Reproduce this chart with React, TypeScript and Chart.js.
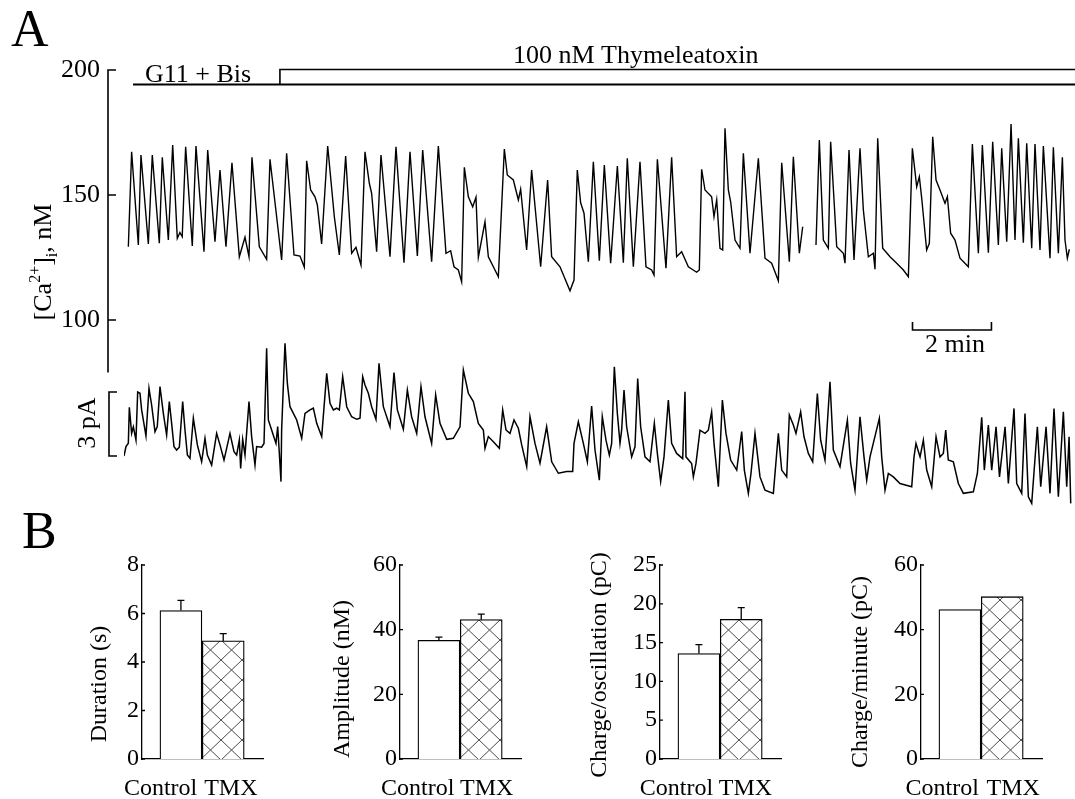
import React, { useEffect, useRef } from "react";
import { Chart, registerables } from "chart.js";

Chart.register(...registerables);

const FONT = '"Liberation Serif", "Times New Roman", Times, serif';
const INK = "#000000";

// ---------------- Panel A data ----------------
// [time (s), [Ca2+]i (nM)] ; null marks the gap in the record
const caTrace: [number, number | null][] = [
  [6.6,129.3],[11.6,167.3],[21.8,130],[25.8,166],[37,130.4],[43,166],[53.7,130.7],[58.2,165.1],[67.4,132],[74,170],
  [81,132.7],[85,135],[88.5,133.3],[93.7,169.3],[103.8,129.6],[109.4,169.6],[121.6,127.3],[127.2,168],[138.3,131.3],[145.9,160],
  [155,129.3],[164.1,162.9],[175.3,125.3],[183.9,133.1],[190,125.3],[194.5,165.1],[205.7,129.3],[216.8,124.3],[221.9,164.3],[239.6,124],
  [247.2,166.7],[258.4,126],[267.5,125.6],[274.1,121.1],[277.6,163.7],[283.7,152],[290.3,149.3],[293.9,146],[300.4,130.4],[309.6,169.6],
  [319.7,141.3],[327.3,126],[336.9,165.6],[346,126.7],[352.6,129.1],[360.2,122],[366.3,167.3],[372.9,154.7],[376.4,150.7],[384,127.3],
  [390.6,166],[404.3,125.3],[413.4,169.3],[425.6,122.9],[434.7,167.3],[445.9,125.6],[454,168],[467.6,123.3],[477.8,169.6],[489.4,126.7],
  [496.5,127.7],[501.6,121.3],[508.2,120],[513.2,115.3],[517.3,161.1],[523.4,149.3],[530,145.3],[535,149.1],[538.6,125.1],[548.7,139.3],
  [553.8,125.3],[561.4,121.3],[569,117.3],[578.1,168.4],[582.6,158],[591.8,156],[599.4,148],[602.9,152.3],[612,128],[619.6,160],
  [633.3,121.3],[643.9,156],[650,125.3],[662.7,121.3],[677.9,111.7],[684,116],[689,160],[694.1,146.9],[699.2,142.7],[705.8,123.3],
  [713.4,163.3],[722.5,123.7],[730.1,162],[739.7,122.7],[749.9,161.6],[759,122.9],[765,164.7],[774.2,121.3],[784.3,163.3],[793.4,121.3],
  [802,120],[805.6,118],[810.7,164.3],[823.8,120.7],[832.4,165.1],[840,125.3],[847.6,127.3],[857.8,121.3],[870.4,119.1],[874.5,120],
  [878,160.3],[883.1,152],[893.2,149.3],[896.8,141.3],[900.9,148],[905.9,128.7],[910,128],[913.5,176.7],[918.6,152],[922.1,147.3],
  [928.7,132],[936.3,128.7],[941.4,166.7],[951.5,126.7],[964.2,164.7],[974.3,124.7],[984.4,122.7],[994.6,115.7],[999.7,162.9],[1011.3,123.3],
  [1017.4,165.3],[1026.5,126.7],[1031.6,137.3],[1040,null],[1051.8,130],[1056.9,172],[1063,132],[1070.6,128.7],[1074.1,171.3],[1083.3,129.3],
  [1093.4,126.7],[1095.9,122.7],[1102,168],[1109.6,124],[1118.7,168.7],[1123.8,144],[1131.4,125.3],[1139,126.7],[1141.5,120.3],[1145.6,172.7],
  [1153.2,128.7],[1164.3,125.3],[1174.5,122.7],[1184.6,120],[1192.2,117.3],[1198.3,168.7],[1204.9,153.3],[1208.9,157.3],[1212.5,148.7],[1220,128],
  [1224.1,130.7],[1229.2,173.3],[1234.3,156],[1240.3,152],[1247.9,146.7],[1251.5,149.3],[1256.5,134.7],[1263.1,132],[1270.7,124.7],[1283.4,121.3],
  [1289.5,170.4],[1298.6,126.7],[1304.7,170],[1313.8,126.9],[1320.4,171.3],[1329,130],[1334.1,168.7],[1341.7,131.3],[1348.3,178.4],[1354.3,132],
  [1359.4,172.7],[1367,130.9],[1372.1,170.7],[1379.7,128.7],[1384.7,170.4],[1392.3,128],[1397.4,169.6],[1407.5,124.7],[1412.6,169.1],[1420.2,126.7],
  [1426.3,165.1],[1430.3,132],[1433.9,124.7],[1436.9,128.3],
];

// [time (s), membrane current (pA, relative)]
const currentTrace: [number, number][] = [
  [0,0],[3,0.44],[6.6,0.6],[8.1,2.28],[11.6,1.06],[14.2,1.37],[18.2,0.75],[20.8,3.0],[24.3,2.94],[26.8,2.16],
  [33.4,0.94],[38,3.17],[42,2.39],[47.1,1.14],[50.6,1.38],[54.7,3.25],[59.8,2.0],[64.8,0.98],[68.9,2.55],[72.4,1.53],
  [76,0.44],[80,0.28],[84.1,0.41],[89.2,2.55],[92.7,1.22],[96.3,0.05],[100.3,-0.11],[105.4,1.77],[111.5,0.52],[118,-0.27],
  [123.1,0.83],[126.7,0.05],[133.2,-0.42],[140.8,1.06],[145.9,0.52],[152,-0.19],[161.1,1.06],[167.2,0.2],[171.2,0.05],[175.3,0.75],
  [177.3,-0.58],[180.4,0.78],[183.9,0.05],[190,2.55],[194,0.91],[199.1,-0.42],[201.6,0.44],[209.2,0.41],[212.8,0.59],[216.8,5.05],
  [219.4,1.69],[224.4,1.22],[231,0.59],[233.6,1.38],[236.1,0.13],[238.6,-1.2],[239.6,1.22],[244.7,5.28],[248.3,3.4],[252.3,2.31],
  [262.5,1.69],[270.1,0.83],[275.1,2.0],[282.7,2.16],[287.8,2.24],[292.9,1.53],[300.5,0.91],[308.1,3.87],[313.1,2.47],[318.2,2.16],
  [323.3,2.24],[327.3,2.16],[332.4,3.72],[338.5,2.31],[346,1.84],[353.7,1.72],[358.7,1.77],[362.8,3.72],[366.3,3.33],[371.4,2.94],
  [376.4,2.31],[383,1.72],[387.6,4.34],[394.2,2.31],[404.3,1.37],[410.4,3.91],[415.5,2.16],[424.6,1.25],[430.7,3.09],[437.2,1.84],
  [444.9,1.06],[451.4,3.25],[457.5,1.84],[467.6,0.59],[473.7,2.86],[480.3,1.53],[490.5,0.78],[500.6,0.83],[510.7,1.37],[515.8,4.03],
  [523.4,2.94],[531,2.55],[538.6,1.53],[546.2,1.22],[548.7,0.36],[553.8,0.91],[561.4,0.67],[570.5,0.36],[575.6,2.16],[580.6,1.22],
  [586.7,1.06],[592.8,1.69],[599.4,1.3],[604.5,0.52],[612.1,-0.5],[617.1,1.84],[624.7,0.59],[632.3,-0.34],[642.4,1.37],[650.1,-0.27],
  [660.2,-0.81],[672.9,-0.73],[682,-0.73],[684,0.59],[690.6,1.6],[698.2,0.59],[704.3,-0.27],[710.8,2.34],[715.9,0.28],[722.5,-1.13],
  [727,1.84],[732.6,0.74],[737.7,0.04],[741.2,0.59],[745.3,4.18],[749.9,1.99],[753.9,0.59],[756.4,1.21],[760,3.09],[764,1.37],
  [771.6,-0.04],[776.7,0.43],[780.8,3.63],[785.3,1.37],[791.9,-0.04],[799.5,-0.27],[806.1,1.53],[810.7,0.12],[815.7,-1.2],[820.8,-0.04],
  [827.4,2.62],[832.4,0.59],[840,0.12],[849.2,-0.12],[852.7,3.01],[854.2,-0.04],[862.8,-0.35],[865.4,-0.98],[869.4,-0.35],[875.5,1.21],
  [883.1,1.06],[888.2,1.21],[893.2,2.07],[896.8,0.59],[903.4,-1.44],[909.5,2.62],[915,1.06],[922.1,-0.19],[931.3,-0.66],[938.9,1.14],
  [942.9,-0.66],[949,-1.75],[953,-0.82],[959.1,1.06],[966.7,-0.98],[974.3,-1.6],[987,-1.75],[994.6,1.06],[999.7,-0.66],[1007.3,-0.98],
  [1011.3,1.92],[1017.4,1.45],[1021.4,1.06],[1028.5,2.07],[1033.6,0.9],[1040.2,0.12],[1046.8,-0.27],[1053.9,2.93],[1058.9,0.74],[1065.5,-0.19],
  [1073.1,3.48],[1078.2,0.28],[1088.3,-0.5],[1099.5,1.68],[1104.5,-0.35],[1111.1,-1.6],[1118.7,1.84],[1124.8,-0.04],[1128.9,-1.13],[1133.9,-0.04],
  [1148.1,1.76],[1151.7,-0.04],[1156.7,-1.6],[1161.8,-0.82],[1169.4,-0.98],[1179.5,-1.29],[1197.3,-1.44],[1200.8,-0.04],[1203.8,0.59],[1210,-0.04],
  [1215,0.74],[1220.1,-0.66],[1227.7,-1.44],[1234.3,0.9],[1240.3,-0.04],[1245.4,0.12],[1249,1.21],[1252.9,-0.19],[1260.6,-0.27],[1268.2,-1.29],
  [1275.8,-1.75],[1291,-1.68],[1297.1,-0.82],[1303.7,1.81],[1307.7,-0.66],[1313.8,1.45],[1318.9,-0.66],[1325.5,1.37],[1330.7,-0.98],[1339.2,1.37],
  [1344.2,-1.29],[1352.8,2.23],[1356.9,-1.29],[1364.5,-1.75],[1369.5,1.99],[1374.6,-1.91],[1379.7,-2.22],[1388.3,1.37],[1393.4,-1.44],[1401.5,1.37],
  [1407.5,-1.75],[1413.6,2.23],[1420.2,-1.91],[1427.8,2.07],[1432.9,-1.44],[1436.5,0.9],[1439,-2.22],
];

const caTicks = [100, 150, 200];
const caAxisBottom = 79; // nM, lower end of the drawn Ca axis
const g11Start = 13.7; // s
const tmxStart = 237; // s
const timeBarStart = 1198.5; // s
const timeBarLength = 120; // s (2 min)
const currentBarSize = 3; // pA
const drugLabels = ["G11 + Bis", "100 nM Thymeleatoxin"];

// ---------------- Panel B data ----------------
const categories = ["Control", "TMX"];
const durationMean = [6.12, 4.87];
const durationSem = [0.42, 0.3];
const durationTicks = [0, 2, 4, 6, 8];
const amplitudeMean = [36.7, 43.1];
const amplitudeSem = [1.0, 1.7];
const amplitudeTicks = [0, 20, 40, 60];
const chargeOscMean = [13.6, 18.0];
const chargeOscSem = [1.15, 1.5];
const chargeOscTicks = [0, 5, 10, 15, 20, 25];
const chargeMinMean = [46.2, 50.2];
const chargeMinTicks = [0, 20, 40, 60];

// ---------------- layout ----------------
const BAR_TOP = 540;
const barSpecs = [
  { title: "Duration (s)", means: durationMean, sems: durationSem, ticks: durationTicks, axisX: 142, titleDx: 42, titleCy: 684, labelX: [-0.48, 1.18] },
  { title: "Amplitude (nM)", means: amplitudeMean, sems: amplitudeSem, ticks: amplitudeTicks, axisX: 400, titleDx: 57, titleCy: 679, labelX: [-0.5, 1.13] },
  { title: "Charge/oscillation (pC)", means: chargeOscMean, sems: chargeOscSem, ticks: chargeOscTicks, axisX: 660, titleDx: 60, titleCy: 665, labelX: [-0.53, 1.1] },
  { title: "Charge/minute (pC)", means: chargeMinMean, sems: null, ticks: chargeMinTicks, axisX: 921, titleDx: 60, titleCy: 672, labelX: [-0.42, 1.26] },
];

function drawRotated(ctx: any, parts: { text: string; size: number; dy: number }[], cx: number, cy: number) {
  ctx.save();
  ctx.translate(cx, cy);
  ctx.rotate(-Math.PI / 2);
  let total = 0;
  for (const p of parts) {
    ctx.font = `${p.size}px ${FONT}`;
    total += ctx.measureText(p.text).width;
  }
  let x = -total / 2;
  ctx.textAlign = "left";
  ctx.textBaseline = "alphabetic";
  for (const p of parts) {
    ctx.font = `${p.size}px ${FONT}`;
    ctx.fillText(p.text, x, p.dy);
    x += ctx.measureText(p.text).width;
  }
  ctx.restore();
}

const panelADecor = {
  id: "panelADecor",
  afterDraw(chart: any) {
    const { ctx, chartArea, scales } = chart;
    const xs = scales.x, yc = scales.yCa, yi = scales.yI;
    ctx.save();
    ctx.strokeStyle = INK;
    ctx.fillStyle = INK;

    // panel letters
    ctx.font = `52px ${FONT}`;
    ctx.textAlign = "left";
    ctx.textBaseline = "alphabetic";
    ctx.fillText("A", 11, 46);
    ctx.fillText("B", 22, 548);

    // Ca axis with inward ticks
    const ax = chartArea.left - 16;
    ctx.lineWidth = 1.6;
    ctx.beginPath();
    ctx.moveTo(ax, yc.getPixelForValue(caAxisBottom));
    ctx.lineTo(ax, yc.getPixelForValue(caTicks[caTicks.length - 1]));
    for (const v of caTicks) {
      const py = yc.getPixelForValue(v);
      ctx.moveTo(ax - 0.8, py);
      ctx.lineTo(ax + 8, py);
    }
    ctx.stroke();
    ctx.font = `26px ${FONT}`;
    ctx.textAlign = "right";
    ctx.textBaseline = "middle";
    for (const v of caTicks) ctx.fillText(String(v), ax - 8, yc.getPixelForValue(v));

    // Ca axis title [Ca2+]i, nM
    drawRotated(ctx, [
      { text: "[Ca", size: 26, dy: 9 },
      { text: "2+", size: 16, dy: -2 },
      { text: "]", size: 26, dy: 9 },
      { text: "i", size: 16, dy: 15 },
      { text: ", nM", size: 26, dy: 9 },
    ], 42, 262);

    // drug application bars
    const gx0 = xs.getPixelForValue(g11Start);
    const tx0 = xs.getPixelForValue(tmxStart);
    const xr = chartArea.right;
    const yTop = yc.getPixelForValue(200) - 0.5;
    const yLow = yc.getPixelForValue(200) + 14.5;
    ctx.lineWidth = 2.2;
    ctx.beginPath();
    ctx.moveTo(gx0, yLow);
    ctx.lineTo(xr, yLow);
    ctx.stroke();
    ctx.lineWidth = 1.6;
    ctx.beginPath();
    ctx.moveTo(xr, yTop);
    ctx.lineTo(tx0, yTop);
    ctx.lineTo(tx0, yLow);
    ctx.stroke();
    ctx.font = `26px ${FONT}`;
    ctx.textAlign = "left";
    ctx.textBaseline = "alphabetic";
    ctx.fillText(drugLabels[0], gx0 + 12, yLow - 3);
    ctx.fillText(drugLabels[1], tx0 + 233, yTop - 7);

    // 2 min time bar
    const sx0 = xs.getPixelForValue(timeBarStart);
    const sx1 = xs.getPixelForValue(timeBarStart + timeBarLength);
    const sy = yc.getPixelForValue(100) + 10;
    ctx.lineWidth = 1.6;
    ctx.beginPath();
    ctx.moveTo(sx0, sy - 8);
    ctx.lineTo(sx0, sy);
    ctx.lineTo(sx1, sy);
    ctx.lineTo(sx1, sy - 8);
    ctx.stroke();
    ctx.textAlign = "center";
    ctx.fillText("2 min", (sx0 + sx1) / 2 + 3, sy + 22);

    // 3 pA bracket
    const bx = chartArea.left - 15;
    const by0 = yi.getPixelForValue(0);
    const by1 = yi.getPixelForValue(currentBarSize);
    ctx.beginPath();
    ctx.moveTo(bx + 8, by1);
    ctx.lineTo(bx, by1);
    ctx.lineTo(bx, by0);
    ctx.lineTo(bx + 8, by0);
    ctx.stroke();
    drawRotated(ctx, [{ text: `${currentBarSize} pA`, size: 26, dy: 9 }], 86, (by0 + by1) / 2 - 1);

    ctx.restore();
  },
};

function TracePanel() {
  const ref = useRef<HTMLCanvasElement>(null);
  useEffect(() => {
    const chart = new Chart(ref.current as HTMLCanvasElement, {
      type: "line",
      data: {
        datasets: [
          {
            data: caTrace.map(([x, y]) => ({ x, y })),
            yAxisID: "yCa",
            borderColor: INK,
            borderWidth: 1.4,
            pointRadius: 0,
            tension: 0,
            spanGaps: false,
            fill: false,
          },
          {
            data: currentTrace.map(([x, y]) => ({ x, y })),
            yAxisID: "yI",
            borderColor: INK,
            borderWidth: 1.5,
            pointRadius: 0,
            tension: 0,
            fill: false,
          },
        ],
      } as any,
      options: {
        animation: false,
        responsive: false,
        devicePixelRatio: 1,
        events: [],
        layout: { padding: { left: 124, right: 0, top: 50, bottom: 40 } },
        scales: {
          x: { type: "linear", display: false, min: 0, max: 1445.5 },
          yCa: { type: "linear", display: false, min: 20, max: 208 },
          yI: { type: "linear", display: false, min: -3, max: 19.03 },
        },
        plugins: { legend: { display: false }, tooltip: { enabled: false } },
      } as any,
      plugins: [panelADecor],
    });
    return () => chart.destroy();
  }, []);
  return (
    <canvas
      ref={ref}
      width={1075}
      height={560}
      style={{ position: "absolute", left: 0, top: 0, width: 1075, height: 560, display: "block" }}
    />
  );
}

function makeHatch(ctx: CanvasRenderingContext2D) {
  const w = 21, h = 20;
  const c = document.createElement("canvas");
  c.width = w;
  c.height = h;
  const g = c.getContext("2d") as CanvasRenderingContext2D;
  g.fillStyle = "#ffffff";
  g.fillRect(0, 0, w, h);
  g.strokeStyle = "#4a4a4a";
  g.lineWidth = 1;
  g.beginPath();
  g.moveTo(-1, -1);
  g.lineTo(w + 1, h + 1);
  g.moveTo(w + 1, -1);
  g.lineTo(-1, h + 1);
  g.stroke();
  return ctx.createPattern(c, "repeat");
}

function makeBarDecor(spec: any) {
  return {
    id: "barDecor",
    afterDraw(chart: any) {
      const { ctx, chartArea, scales } = chart;
      const x = scales.x, y = scales.y;
      ctx.save();
      ctx.strokeStyle = INK;
      ctx.fillStyle = INK;
      ctx.lineWidth = 1.3;
      ctx.beginPath();
      for (const t of spec.ticks) {
        const py = y.getPixelForValue(t);
        ctx.moveTo(chartArea.left, py);
        ctx.lineTo(chartArea.left + 3, py);
      }
      if (spec.sems) {
        spec.means.forEach((m: number, i: number) => {
          const s = spec.sems[i];
          const px = x.getPixelForValue(i);
          const y0 = y.getPixelForValue(m);
          const y1 = y.getPixelForValue(m + s);
          ctx.moveTo(px, y0);
          ctx.lineTo(px, y1);
          ctx.moveTo(px - 3.5, y1);
          ctx.lineTo(px + 3.5, y1);
        });
      }
      ctx.stroke();

      ctx.font = `24px ${FONT}`;
      ctx.textAlign = "center";
      ctx.textBaseline = "alphabetic";
      categories.forEach((c, i) => ctx.fillText(c, x.getPixelForValue(spec.labelX[i]), chartArea.bottom + 36));

      ctx.save();
      ctx.translate(chartArea.left - spec.titleDx, spec.titleCy - BAR_TOP);
      ctx.rotate(-Math.PI / 2);
      ctx.textAlign = "center";
      ctx.textBaseline = "middle";
      ctx.font = `24px ${FONT}`;
      ctx.fillText(spec.title, 0, 0);
      ctx.restore();
      ctx.restore();
    },
  };
}

function BarPanel({ spec }: { spec: any }) {
  const ref = useRef<HTMLCanvasElement>(null);
  const W = 240, H = 259, AXIS_W = 110;
  useEffect(() => {
    const canvas = ref.current as HTMLCanvasElement;
    const pattern = makeHatch(canvas.getContext("2d") as CanvasRenderingContext2D);
    const top = spec.ticks[spec.ticks.length - 1];
    const chart = new Chart(canvas, {
      type: "bar",
      data: {
        datasets: [
          {
            data: spec.means.map((m: number, i: number) => ({ x: i, y: m })),
            backgroundColor: ["#ffffff", pattern],
            borderColor: INK,
            borderWidth: 1.3,
            borderSkipped: "bottom",
            barThickness: 42,
          },
        ],
      } as any,
      options: {
        animation: false,
        responsive: false,
        devicePixelRatio: 1,
        events: [],
        layout: { padding: { left: 0, right: W - AXIS_W - 121, top: 25, bottom: 0 } },
        scales: {
          x: {
            type: "linear",
            offset: false,
            min: -0.92,
            max: 1.94,
            grid: { display: false, drawTicks: false, offset: false },
            border: { display: true, color: INK, width: 1.3 },
            ticks: { display: false },
            afterFit: (s: any) => { s.height = 40; },
          },
          y: {
            type: "linear",
            min: 0,
            max: top,
            grid: { display: false, drawTicks: false },
            border: { display: true, color: INK, width: 1.3 },
            ticks: { color: INK, font: { family: FONT, size: 24 }, padding: 3 },
            afterBuildTicks: (s: any) => { s.ticks = spec.ticks.map((v: number) => ({ value: v })); },
            afterFit: (s: any) => { s.width = AXIS_W; },
          },
        },
        plugins: { legend: { display: false }, tooltip: { enabled: false } },
      } as any,
      plugins: [makeBarDecor(spec)],
    });
    return () => chart.destroy();
  }, []);
  return (
    <canvas
      ref={ref}
      width={W}
      height={H}
      style={{ position: "absolute", left: spec.axisX - AXIS_W, top: BAR_TOP, width: W, height: H, display: "block" }}
    />
  );
}

export default function App() {
  return (
    <div style={{ position: "fixed", left: 0, top: 0, width: 1075, height: 799, background: "#ffffff", overflow: "hidden" }}>
      <TracePanel />
      {barSpecs.map((s, i) => (
        <BarPanel key={i} spec={s} />
      ))}
    </div>
  );
}
